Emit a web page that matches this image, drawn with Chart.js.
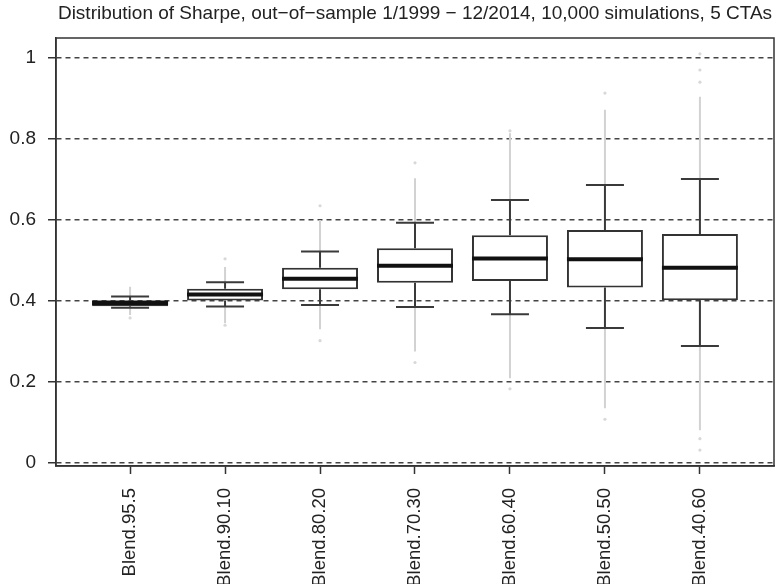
<!DOCTYPE html>
<html>
<head>
<meta charset="utf-8">
<script src="https://cdn.jsdelivr.net/npm/chart.js@4.4.1/dist/chart.umd.min.js"></script>
<style>
  html, body { margin: 0; padding: 0; background: #fff; }
  canvas { display: block; }
</style>
</head>
<body>
<canvas id="myChart" width="778" height="584"></canvas>
<script>
// categories
const labels = ['Blend.95.5', 'Blend.90.10', 'Blend.80.20', 'Blend.70.30', 'Blend.60.40', 'Blend.50.50', 'Blend.40.60']

// box stats
const whiskerLow  = [0.383, 0.386, 0.390, 0.385, 0.367, 0.333, 0.289]
const q1          = [0.387, 0.401, 0.429, 0.445, 0.449, 0.433, 0.402]
const median      = [0.395, 0.416, 0.455, 0.487, 0.505, 0.503, 0.482]
const q3          = [0.402, 0.430, 0.482, 0.530, 0.562, 0.575, 0.565]
const whiskerHigh = [0.411, 0.446, 0.522, 0.593, 0.649, 0.686, 0.701]

// dense runs of outliers (show as a grey line)
const outlierRunLow  = [0.365, 0.345, 0.330, 0.275, 0.209, 0.135, 0.081]
const outlierRunHigh = [0.435, 0.484, 0.600, 0.703, 0.814, 0.872, 0.904]

// isolated outliers
const outlierCat = [1, 2, 2, 3, 3, 4, 4, 5, 5, 6, 6, 7, 7, 7, 7, 7]
const outlierVal = [0.358, 0.504, 0.340, 0.635, 0.302, 0.741, 0.248, 0.820, 0.183, 0.913, 0.108, 0.940, 0.970, 1.010, 0.060, 0.032]

const yTicks = [0, 0.2, 0.4, 0.6, 0.8, 1]

const textColor = '#222'
const fontFamily = "'Liberation Sans', Arial, Helvetica, sans-serif"

const boxExtras = {
  id: 'boxExtras',
  beforeDatasetsDraw(chart) {
    const { ctx, scales: { x, y } } = chart
    ctx.save()
    // grey outlier runs
    ctx.strokeStyle = '#d2d2d2'
    ctx.lineWidth = 2
    labels.forEach((l, i) => {
      const px = x.getPixelForValue(i + 1)
      ctx.beginPath()
      ctx.moveTo(px, y.getPixelForValue(whiskerLow[i]))
      ctx.lineTo(px, y.getPixelForValue(outlierRunLow[i]))
      ctx.moveTo(px, y.getPixelForValue(whiskerHigh[i]))
      ctx.lineTo(px, y.getPixelForValue(outlierRunHigh[i]))
      ctx.stroke()
    })
    // whiskers + staples
    ctx.strokeStyle = '#3a3a3a'
    ctx.lineWidth = 2
    labels.forEach((l, i) => {
      const px = x.getPixelForValue(i + 1)
      const cl = x.getPixelForValue(i + 1 - 0.2)
      const cr = x.getPixelForValue(i + 1 + 0.2)
      const yl = y.getPixelForValue(whiskerLow[i])
      const yh = y.getPixelForValue(whiskerHigh[i])
      ctx.beginPath()
      ctx.moveTo(px, y.getPixelForValue(q1[i]))
      ctx.lineTo(px, yl)
      ctx.moveTo(px, y.getPixelForValue(q3[i]))
      ctx.lineTo(px, yh)
      ctx.moveTo(cl, yl)
      ctx.lineTo(cr, yl)
      ctx.moveTo(cl, yh)
      ctx.lineTo(cr, yh)
      ctx.stroke()
    })
    ctx.restore()
  },
  afterDatasetsDraw(chart) {
    const { ctx, scales: { x, y } } = chart
    ctx.save()
    ctx.strokeStyle = '#111'
    ctx.lineWidth = 4
    labels.forEach((l, i) => {
      const ym = y.getPixelForValue(median[i])
      ctx.beginPath()
      ctx.moveTo(x.getPixelForValue(i + 1 - 0.4), ym)
      ctx.lineTo(x.getPixelForValue(i + 1 + 0.4), ym)
      ctx.stroke()
    })
    ctx.restore()
  },
  afterDraw(chart) {
    const { ctx, chartArea } = chart
    ctx.save()
    ctx.strokeStyle = '#333'
    ctx.lineWidth = 1.5
    ctx.strokeRect(chartArea.left, chartArea.top, chartArea.right - chartArea.left, chartArea.bottom - chartArea.top)
    ctx.restore()
  }
}

document.addEventListener('DOMContentLoaded', function() {
  const ctx = document.getElementById('myChart')
  new Chart(ctx, {
    type: 'bar',
    data: {
      datasets: [
        {
          type: 'scatter',
          data: outlierCat.map((c, i) => ({ x: c, y: outlierVal[i] })),
          pointRadius: 1.6,
          pointBackgroundColor: '#d8d8d8',
          pointBorderWidth: 0,
          order: 2
        },
        {
          type: 'bar',
          data: labels.map((l, i) => ({ x: i + 1, y: [q1[i], q3[i]] })),
          backgroundColor: '#fff',
          borderColor: '#333',
          borderWidth: 2,
          borderSkipped: false,
          barPercentage: 1,
          categoryPercentage: 0.8,
          order: 1
        }
      ]
    },
    options: {
      responsive: false,
      animation: false,
      layout: { padding: { left: 0, right: 3, top: 0, bottom: 0 } },
      plugins: {
        legend: { display: false },
        tooltip: { enabled: false },
        title: {
          display: true,
          fullSize: false,
          text: 'Distribution of Sharpe, out\u2212of\u2212sample 1/1999 \u2212 12/2014, 10,000 simulations, 5 CTAs',
          color: textColor,
          font: { family: fontFamily, size: 19, weight: 'normal' },
          padding: { top: 2, bottom: 13.2 }
        }
      },
      scales: {
        x: {
          type: 'linear',
          min: 0.22,
          max: 7.78,
          offset: false,
          afterBuildTicks: (scale) => { scale.ticks = labels.map((l, i) => ({ value: i + 1 })) },
          afterFit: (scale) => { scale.height = 118 },
          ticks: {
            callback: (v) => labels[v - 1],
            color: textColor,
            font: { family: fontFamily, size: 18.5 },
            minRotation: 90,
            maxRotation: 90,
            autoSkip: false,
            padding: 14
          },
          grid: {
            offset: false,
            drawOnChartArea: false,
            tickLength: 8,
            tickColor: '#333',
            tickWidth: 1.5
          },
          border: { color: '#333', width: 1.5 }
        },
        y: {
          min: -0.0074,
          max: 1.049,
          afterBuildTicks: (scale) => { scale.ticks = yTicks.map(v => ({ value: v })) },
          afterFit: (scale) => { scale.width = 56 },
          ticks: {
            callback: (v) => String(v),
            color: textColor,
            font: { family: fontFamily, size: 19 },
            padding: 12
          },
          grid: {
            color: '#444',
            lineWidth: 1.5,
            tickLength: 8,
            tickColor: '#333',
            tickWidth: 1.5,
            tickBorderDash: []
          },
          border: { color: '#333', width: 1.5, dash: [5, 4] }
        }
      }
    },
    plugins: [boxExtras]
  })
})
</script>
</body>
</html>
